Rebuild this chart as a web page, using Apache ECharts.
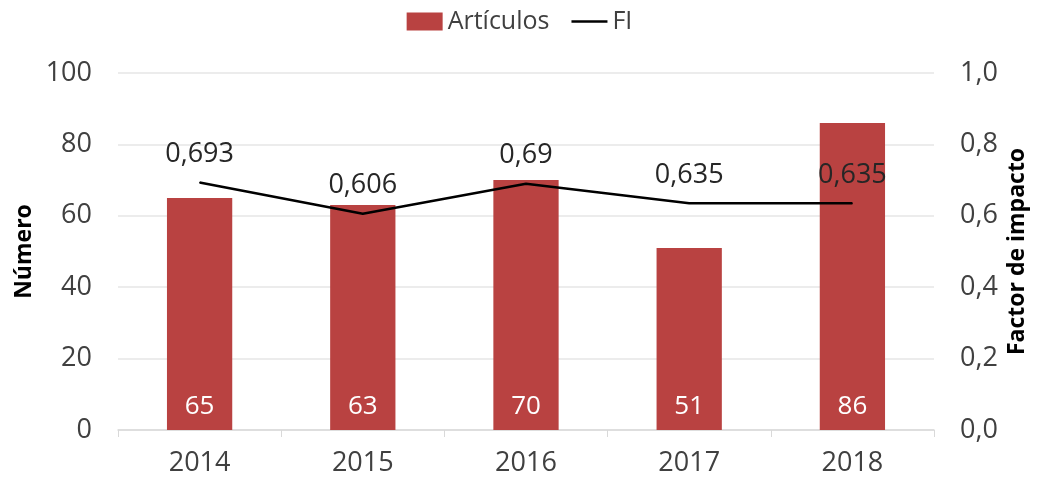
<!DOCTYPE html>
<html>
<head>
<meta charset="utf-8">
<script src="https://cdn.jsdelivr.net/npm/echarts@6/dist/echarts.min.js"></script>
<style>
  html, body { margin: 0; padding: 0; background: #fff; }
  #chart { width: 1039px; height: 478px; }
</style>
</head>
<body>
<div id="chart"></div>
<script>
// datos
const years = ['2014', '2015', '2016', '2017', '2018'];
const articulos = [65, 63, 70, 51, 86];
const fi = [0.693, 0.606, 0.69, 0.635, 0.635];

const FONT = '"Open Sans", sans-serif';
const TXT = '#404040';

const comma = (v) => String(v).replace('.', ',');

const chart = echarts.init(document.getElementById('chart'));

chart.setOption({
  animation: false,
  textStyle: { fontFamily: FONT },
  legend: {
    top: 4,
    left: 'center',
    itemWidth: 36,
    itemHeight: 18,
    itemGap: 22,
    textStyle: { fontSize: 25, color: TXT, fontFamily: FONT },
    data: [
      { name: 'Artículos', icon: 'rect' },
      { name: 'FI', icon: 'path://M0,0 L40,0 L40,3 L0,3 Z' },
    ],
  },
  grid: {
    left: 118,
    right: 105,
    top: 73,
    bottom: 48,
    containLabel: false,
    outerBoundsMode: 'none',
  },
  xAxis: {
    type: 'category',
    data: years,
    boundaryGap: true,
    axisLine: { lineStyle: { color: '#d9d9d9', width: 1.5 } },
    axisTick: { show: true, length: 7, lineStyle: { color: '#d9d9d9' } },
    axisLabel: { fontSize: 27, color: TXT, margin: 20 },
  },
  yAxis: [
    {
      type: 'value',
      min: 0,
      max: 100,
      interval: 20,
      name: 'Número',
      nameLocation: 'middle',
      nameGap: 82,
      nameMoveOverlap: false,
      nameTextStyle: { fontSize: 23, fontWeight: 'bold', color: '#000' },
      axisLabel: { fontSize: 27, color: TXT, margin: 26 },
      splitLine: { lineStyle: { color: '#e6e6e6', width: 1.5 } },
      axisLine: { show: false },
      axisTick: { show: false },
    },
    {
      type: 'value',
      min: 0,
      max: 1,
      interval: 0.2,
      name: 'Factor de impacto',
      nameLocation: 'middle',
      nameGap: 72,
      nameMoveOverlap: false,
      nameTextStyle: { fontSize: 23, fontWeight: 'bold', color: '#000' },
      axisLabel: {
        fontSize: 27,
        color: TXT,
        margin: 26,
        formatter: (v) => v.toFixed(1).replace('.', ','),
      },
      splitLine: { show: false },
      axisLine: { show: false },
      axisTick: { show: false },
    },
  ],
  series: [
    {
      name: 'Artículos',
      type: 'bar',
      data: articulos,
      barWidth: '40%',
      itemStyle: { color: '#b94241' },
      label: {
        show: true,
        position: 'insideBottom',
        distance: 10,
        color: '#fff',
        fontSize: 26,
      },
    },
    {
      name: 'FI',
      type: 'line',
      yAxisIndex: 1,
      data: fi,
      symbol: 'circle',
      symbolSize: 1,
      lineStyle: { color: '#000', width: 2.5 },
      itemStyle: { color: '#000' },
      label: {
        show: true,
        position: 'top',
        distance: 14,
        color: '#262626',
        fontSize: 27,
        formatter: (p) => comma(p.value),
      },
    },
  ],
});
</script>
</body>
</html>
